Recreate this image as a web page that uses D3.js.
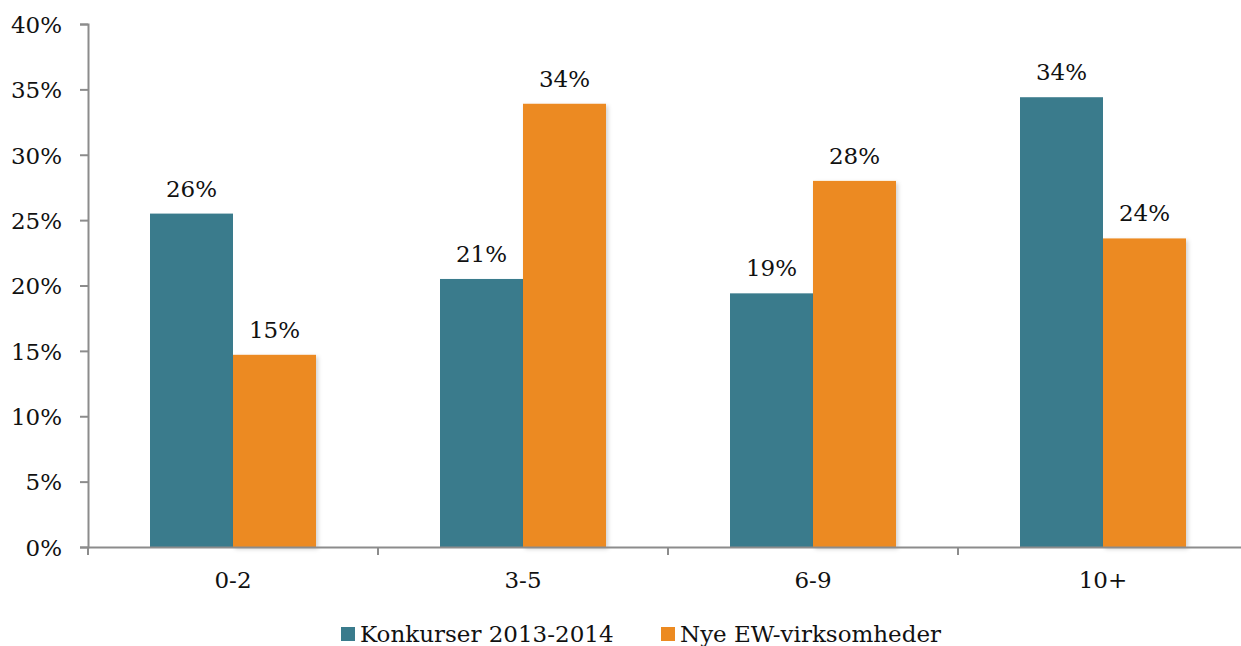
<!DOCTYPE html>
<html>
<head>
<meta charset="utf-8">
<script src="https://cdn.jsdelivr.net/npm/d3@7"></script>
<style>
  html, body { margin: 0; padding: 0; background: #ffffff; }
  svg { display: block; }
  text { font-family: "DejaVu Serif", "Liberation Serif", serif; fill: #111; }
</style>
</head>
<body>
<div id="chart"></div>
<script>
// Chart data
var categories = ["0-2", "3-5", "6-9", "10+"];
var seriesNames = ["Konkurser 2013-2014", "Nye EW-virksomheder"];
var konkurser = [25.5, 20.5, 19.4, 34.4];
var nyeVirksomheder = [14.7, 33.9, 28.0, 23.6];
var yTicks = [0, 5, 10, 15, 20, 25, 30, 35, 40];
var colors = ["#3a7b8c", "#ec8a21"];

var width = 1241, height = 646;
var margin = { left: 88, right: -7, top: 24, bottom: 99 };

var svg = d3.select("#chart").append("svg")
	.attr("width", width)
	.attr("height", height);

// subtle shadow like the original
var defs = svg.append("defs");
var shadow = defs.append("filter").attr("id", "shadow")
	.attr("x", "-10%").attr("y", "-10%").attr("width", "130%").attr("height", "130%");
shadow.append("feDropShadow")
	.attr("dx", 2).attr("dy", 2).attr("stdDeviation", 2)
	.attr("flood-color", "#000").attr("flood-opacity", 0.18);

var x = d3.scaleBand()
	.domain(categories)
	.range([margin.left, width - margin.right])
	.paddingInner(0).paddingOuter(0);

var x1 = d3.scaleBand()
	.domain(seriesNames)
	.range([0, x.bandwidth()])
	.paddingInner(0).paddingOuter(0.747);

var y = d3.scaleLinear()
	.domain([0, 40])
	.range([height - margin.bottom, margin.top]);

var rows = categories.map(function(c, i){
	return { cat: c, values: [konkurser[i], nyeVirksomheder[i]] };
});

// Bars
var groups = svg.append("g").selectAll("g")
	.data(rows).enter().append("g")
	.attr("transform", function(d){ return "translate(" + x(d.cat) + ",0)"; });

groups.selectAll("rect")
	.data(function(d){ return d.values.map(function(v, j){ return { s: seriesNames[j], v: v, j: j }; }); })
	.enter().append("rect")
	.attr("x", function(d){ return x1(d.s); })
	.attr("y", function(d){ return y(d.v); })
	.attr("width", x1.bandwidth())
	.attr("height", function(d){ return y(0) - y(d.v); })
	.attr("fill", function(d){ return colors[d.j]; })
	.attr("filter", function(d){ return d.j === 1 ? "url(#shadow)" : null; });

// Value labels
groups.selectAll("text.val")
	.data(function(d){ return d.values.map(function(v, j){ return { s: seriesNames[j], v: v }; }); })
	.enter().append("text")
	.attr("class", "val")
	.attr("x", function(d){ return x1(d.s) + x1.bandwidth() / 2; })
	.attr("y", function(d){ return y(d.v) - 17; })
	.attr("text-anchor", "middle")
	.style("font-size", "23px")
	.text(function(d){ return Math.round(d.v) + "%"; });

// Y axis
var yAxis = svg.append("g")
	.attr("transform", "translate(" + margin.left + ",0)")
	.call(d3.axisLeft(y).tickValues(yTicks).tickSize(8).tickSizeOuter(8)
		.tickFormat(function(d){ return d + "%"; }));
yAxis.selectAll("text").style("font-size", "23px").attr("x", -26).attr("dy", "0.36em");

// X axis
var xAxis = svg.append("g")
	.attr("transform", "translate(0," + y(0) + ")")
	.call(d3.axisBottom(x).tickSize(0).tickSizeOuter(0));
xAxis.selectAll("text").style("font-size", "23px").attr("dy", "0").attr("y", 41);
var bounds = categories.map(function(c){ return x(c); }).concat([x(categories[categories.length - 1]) + x.bandwidth()]);
xAxis.selectAll("line.sep")
	.data(bounds).enter().append("line")
	.attr("class", "sep")
	.attr("x1", function(d){ return d; }).attr("x2", function(d){ return d; })
	.attr("y1", 0).attr("y2", 8);

svg.selectAll(".domain, .tick line, line.sep")
	.attr("stroke", "#8c8c8c").attr("stroke-width", 2);
svg.selectAll(".tick text").attr("fill", "#111");

// Legend
var legendX = [341, 661];
var legend = svg.append("g").attr("transform", "translate(0,627)");
var items = legend.selectAll("g")
	.data(seriesNames).enter().append("g")
	.attr("transform", function(d, i){ return "translate(" + legendX[i] + ",0)"; });
items.append("rect")
	.attr("width", 14).attr("height", 14)
	.attr("fill", function(d, i){ return colors[i]; });
items.append("text")
	.attr("x", 19).attr("y", 15)
	.style("font-size", "23px")
	.text(function(d){ return d; });
</script>
</body>
</html>
